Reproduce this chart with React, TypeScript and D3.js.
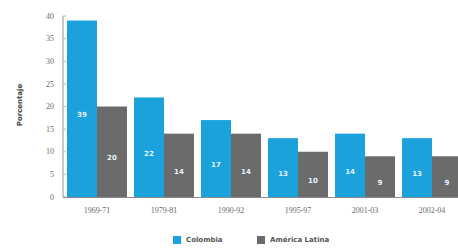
import React from "react";
import * as d3 from "d3";

const periods = ["1969-71", "1979-81", "1990-92", "1995-97", "2001-03", "2002-04"];
const colombia = [39, 22, 17, 13, 14, 13];
const americaLatina = [20, 14, 14, 10, 9, 9];
const seriesNames = ["Colombia", "América Latina"];
const yTicks = [0, 5, 10, 15, 20, 25, 30, 35, 40];

const colors = ["#1ba1dc", "#6b6b6c"];

function App(): JSX.Element {
    const width = 458;
    const height = 252;
    const axisX = 63;

    const x = d3.scaleBand<string>()
        .domain(periods)
        .range([67, 462])
        .paddingInner(0.105)
        .paddingOuter(0);

    const xSub = d3.scaleBand<string>()
        .domain(seriesNames)
        .range([0, x.bandwidth()])
        .padding(0);

    const y = d3.scaleLinear()
        .domain([0, 40])
        .range([197, 16]);

    const series = [colombia, americaLatina];

    return (
        <svg width={width} height={height} style={{position: "absolute", left: 0, top: 0, background: "#fff"}}>
            {/* y axis */}
            <line x1={axisX} x2={axisX} y1={y(40)} y2={y(0)} stroke="#c9c9cb" strokeWidth={2}/>
            {yTicks.map(t => (
                <g key={t} transform={`translate(0, ${y(t)})`}>
                    <line x1={axisX} x2={axisX + 3} stroke="#b5b5b7" strokeWidth={1}/>
                    <text x={54} dy="0.33em" textAnchor="end" fontFamily="'Liberation Serif', serif"
                          fontSize={8} fill="#6a6a6a">{t}</text>
                </g>
            ))}
            <text transform={`translate(22, ${105}) rotate(-90)`} textAnchor="middle"
                  fontFamily="'DejaVu Sans', sans-serif" fontSize={7} fontWeight="bold" fill="#444">Porcentaje</text>

            {/* bars */}
            {periods.map((p, i) => (
                <g key={p} transform={`translate(${x(p)}, 0)`}>
                    {series.map((s, j) => {
                        const bx = xSub(seriesNames[j]) || 0;
                        const top = y(s[i]);
                        const mid = (top + y(0)) / 2;
                        return (
                            <g key={j}>
                                <rect x={bx} y={top} width={xSub.bandwidth()} height={y(0) - top} fill={colors[j]}/>
                                <text x={bx + xSub.bandwidth() / 2} y={mid + 6} dy="0.33em" textAnchor="middle"
                                      fontFamily="'DejaVu Sans', sans-serif" fontSize={7} fontWeight="bold"
                                      fill="#e8f4fb">{s[i]}</text>
                            </g>
                        );
                    })}
                    <text x={x.bandwidth() / 2} y={210} dy="0.33em" textAnchor="middle"
                          fontFamily="'Liberation Serif', serif" fontSize={8} fill="#6a6a6a">{p}</text>
                </g>
            ))}
            <line x1={axisX} x2={width} y1={y(0) + 0.5} y2={y(0) + 0.5} stroke="#8a8a8c" strokeWidth={1}/>

            {/* legend */}
            {seriesNames.map((name, j) => {
                const lx = j === 0 ? 173 : 257;
                return (
                    <g key={name} transform={`translate(${lx}, 236)`}>
                        <rect width={8} height={8} fill={colors[j]}/>
                        <text x={13} y={4} dy="0.35em" fontFamily="'DejaVu Sans', sans-serif" fontSize={7}
                              fontWeight="bold" fill="#555">{name}</text>
                    </g>
                );
            })}
        </svg>
    );
}

export default App;
